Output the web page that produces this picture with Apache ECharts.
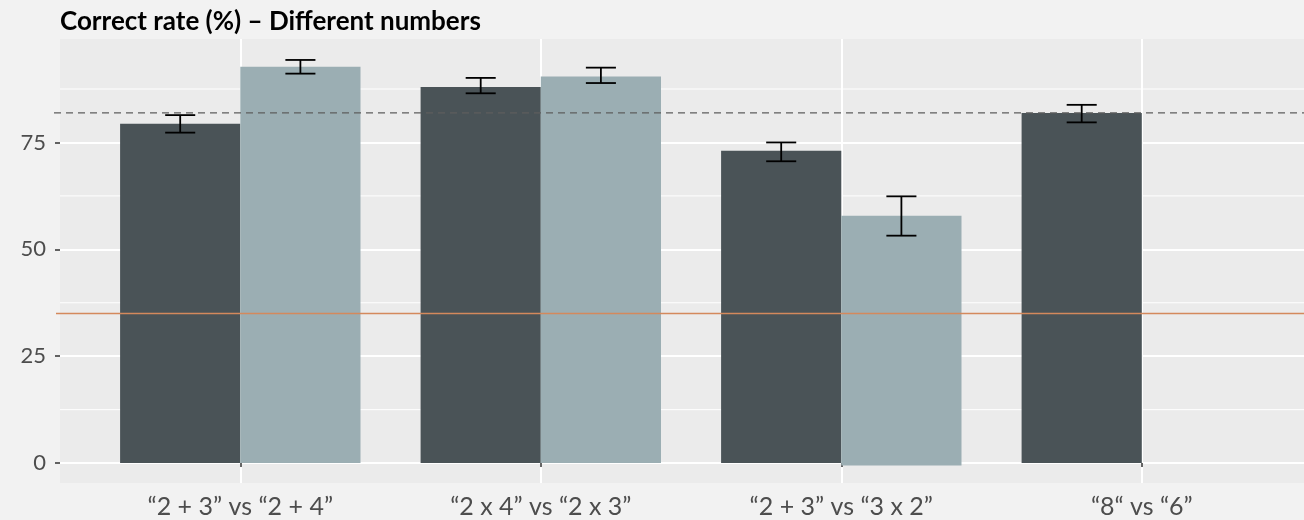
<!DOCTYPE html>
<html><head><meta charset="utf-8">
<script src="https://cdn.jsdelivr.net/npm/echarts@6/dist/echarts.min.js"></script>
<style>html,body{margin:0;padding:0;background:#F2F2F2;}#c{width:1304px;height:520px;}</style>
</head><body><div id="c"></div>
<script>
const title = "Correct rate (%) – Different numbers";
const categories = ["“2 + 3” vs “2 + 4”", "“2 x 4” vs “2 x 3”", "“2 + 3” vs “3 x 2”", "“8“ vs “6”"];
const darkValues = [79.4, 88.0, 73.05, 81.9];
const darkLow = [77.3, 86.5, 70.6, 79.7];
const darkHigh = [81.4, 90.1, 75.0, 83.8];
const lightValues = [92.7, 90.4, 57.85, null];
const lightLow = [91.1, 88.9, 53.2, null];
const lightHigh = [94.3, 92.5, 62.4, null];
const lightBase = [0, 0, -0.55, null];
const darkBase = [0, 0, 0, 0];
const yTicks = [0, 25, 50, 75];
const yMinor = [12.5, 37.5, 62.5, 87.5];
const refDashed = 81.9;
const refChance = 35.0;

const DARK = '#4A5357', LIGHT = '#9BAEB3';
const font = 'Lato';
const PX_PER_UNIT = 300.5;
const GRID_LEFT = 60;
const X_MIN = 0.4, X_MAX = 0.4 + (1304 - GRID_LEFT) / PX_PER_UNIT;

function barSeries(vals, bases, offset, color, name) {
  const data = [];
  vals.forEach((v, i) => { if (v != null) data.push([i + 1, v, bases[i]]); });
  return {
    type: 'custom', name, z: 3,
    data,
    renderItem(params, api) {
      const x = api.value(0), top = api.value(1), base = api.value(2);
      const p1 = api.coord([x + offset - 0.2, top]);
      const p2 = api.coord([x + offset + 0.2, base]);
      return { type: 'rect', shape: { x: p1[0], y: p1[1], width: p2[0] - p1[0], height: p2[1] - p1[1] }, style: { fill: color } };
    }
  };
}
function errSeries(low, high, offset, name) {
  const data = [];
  low.forEach((v, i) => { if (v != null) data.push([i + 1, v, high[i]]); });
  return {
    type: 'custom', name, z: 5,
    data,
    renderItem(params, api) {
      const x = api.value(0) + offset;
      const lo = api.coord([x, api.value(1)]), hi = api.coord([x, api.value(2)]);
      const a = api.coord([x - 0.05, 0])[0], b = api.coord([x + 0.05, 0])[0];
      const st = { stroke: '#000', lineWidth: 1.8 };
      return { type: 'group', children: [
        { type: 'line', shape: { x1: lo[0], y1: lo[1], x2: hi[0], y2: hi[1] }, style: st },
        { type: 'line', shape: { x1: a, y1: lo[1], x2: b, y2: lo[1] }, style: st },
        { type: 'line', shape: { x1: a, y1: hi[1], x2: b, y2: hi[1] }, style: st }
      ]};
    }
  };
}
function hline(val, color, dash, extend, width) {
  return {
    type: 'custom', z: 6, clip: false,
    data: [[X_MIN, val]],
    renderItem(params, api) {
      const p = api.coord([X_MIN, api.value(1)]);
      const q = api.coord([X_MAX, api.value(1)]);
      return { type: 'line', shape: { x1: p[0] - extend, y1: p[1], x2: q[0], y2: q[1] },
        style: { stroke: color, lineWidth: width, lineDash: dash } };
    }
  };
}
const gridMinor = {
  type: 'custom', z: 1, silent: true,
  data: yMinor.map(v => [X_MIN, v]),
  renderItem(params, api) {
    const p = api.coord([X_MIN, api.value(1)]);
    const q = api.coord([X_MAX, api.value(1)]);
    return { type: 'line', shape: { x1: p[0], y1: p[1], x2: q[0], y2: q[1] }, style: { stroke: '#FFFFFF', lineWidth: 1 } };
  }
};

const chart = echarts.init(document.getElementById('c'), null, { renderer: 'canvas' });
chart.setOption({
  backgroundColor: '#F2F2F2',
  animation: false,
  title: { text: title, left: 60, top: 9, padding: 0, textStyle: { fontFamily: font, fontWeight: 'bold', fontSize: 26, color: '#000' } },
  grid: { left: GRID_LEFT, top: 39, right: 0, height: 444, show: true, backgroundColor: '#EBEBEB', borderWidth: 0 },
  xAxis: {
    type: 'value', min: X_MIN, max: X_MAX,
    axisLine: { show: false },
    axisTick: { show: true, customValues: [1, 2, 3, 4], length: 4, lineStyle: { color: '#333333', width: 1.5 } },
    axisLabel: { customValues: [1, 2, 3, 4], formatter: v => categories[Math.round(v) - 1], margin: 11, fontFamily: font, fontSize: 25, color: '#4D4D4D' },
    splitLine: { show: true, lineStyle: { color: '#FFFFFF', width: 2 } }
  },
  yAxis: {
    type: 'value', min: -4.65, max: 99.2,
    axisLine: { show: false },
    axisTick: { show: true, customValues: yTicks, length: 5, lineStyle: { color: '#333333', width: 1.5 } },
    axisLabel: { customValues: yTicks, margin: 14, fontFamily: font, fontSize: 22, color: '#4D4D4D' },
    splitLine: { show: true, lineStyle: { color: '#FFFFFF', width: 2 } }
  },
  series: [
    gridMinor,
    barSeries(darkValues, darkBase, -0.2, DARK, 'dark'),
    barSeries(lightValues, lightBase, 0.2, LIGHT, 'light'),
    errSeries(darkLow, darkHigh, -0.2, 'darkErr'),
    errSeries(lightLow, lightHigh, 0.2, 'lightErr'),
    hline(refDashed, '#5E5E5E', [7, 5], 6, 1.2),
    hline(refChance, '#D4895C', null, 4, 1.6)
  ]
});
</script></body></html>
